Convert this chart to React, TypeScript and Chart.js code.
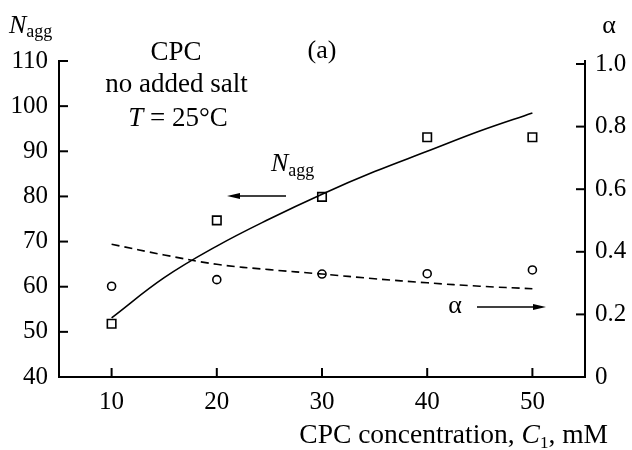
import React, { useEffect, useRef } from "react";
import { Chart, registerables } from "chart.js";

Chart.register(...registerables);

// ---- data ----
const xTickValues = [10, 20, 30, 40, 50];
const nAggTickValues = [40, 50, 60, 70, 80, 90, 100, 110];
const alphaTickValues = [0, 0.2, 0.4, 0.6, 0.8, 1.0];

const concentrations = [10, 20, 30, 40, 50];
const nAggMeasured = [51.8, 74.7, 79.9, 93.1, 93.1];
const alphaMeasured = [0.29, 0.311, 0.329, 0.33, 0.342];

const fitConcentrations = [10, 15, 20, 25, 30, 35, 40, 45, 50];
const nAggFit = [53.1, 62, 69, 75, 80.5, 85.5, 90, 94.5, 98.5];
const alphaFit = [0.424, 0.39, 0.36, 0.343, 0.329, 0.314, 0.301, 0.29, 0.282];

const SERIF = '"Liberation Serif", "Times New Roman", serif';
const font = (size: number, italic = false) => `${italic ? "italic " : ""}${size}px ${SERIF}`;

type Part = { text: string; font: string; dy?: number };

function drawParts(ctx: CanvasRenderingContext2D, parts: Part[], x: number, y: number, align: "left" | "center" | "right") {
  let total = 0;
  parts.forEach((p) => {
    ctx.font = p.font;
    total += ctx.measureText(p.text).width;
  });
  let cx = align === "center" ? x - total / 2 : align === "right" ? x - total : x;
  ctx.textAlign = "left";
  ctx.textBaseline = "alphabetic";
  parts.forEach((p) => {
    ctx.font = p.font;
    ctx.fillText(p.text, cx, y + (p.dy || 0));
    cx += ctx.measureText(p.text).width;
  });
}

function arrow(ctx: CanvasRenderingContext2D, x1: number, x2: number, y: number) {
  const dir = Math.sign(x2 - x1);
  ctx.beginPath();
  ctx.moveTo(x1, y);
  ctx.lineTo(x2 - dir * 8, y);
  ctx.lineWidth = 1.6;
  ctx.stroke();
  ctx.beginPath();
  ctx.moveTo(x2, y);
  ctx.lineTo(x2 - dir * 13, y - 3);
  ctx.lineTo(x2 - dir * 13, y + 3);
  ctx.closePath();
  ctx.fill();
}

const decorPlugin = {
  id: "decor",
  afterDraw(chart: any) {
    const { ctx, chartArea: ca, scales } = chart;
    ctx.save();
    ctx.strokeStyle = "#000";
    ctx.fillStyle = "#000";
    ctx.lineWidth = 2;
    const tl = 9;
    // inward ticks
    scales.x.ticks.forEach((t: any) => {
      const px = scales.x.getPixelForValue(t.value);
      ctx.beginPath();
      ctx.moveTo(px, ca.bottom);
      ctx.lineTo(px, ca.bottom - tl);
      ctx.stroke();
    });
    scales.y.ticks.forEach((t: any) => {
      if (t.value === 40) return;
      const py = scales.y.getPixelForValue(t.value);
      ctx.beginPath();
      ctx.moveTo(ca.left, py);
      ctx.lineTo(ca.left + tl, py);
      ctx.stroke();
    });
    scales.y1.ticks.forEach((t: any) => {
      if (t.value === 0) return;
      const py = scales.y1.getPixelForValue(t.value);
      ctx.beginPath();
      ctx.moveTo(ca.right, py);
      ctx.lineTo(ca.right - tl, py);
      ctx.stroke();
    });

    // axis titles
    drawParts(ctx, [
      { text: "N", font: font(26, true) },
      { text: "agg", font: font(18), dy: 4 },
    ], 9, 33, "left");
    drawParts(ctx, [{ text: "α", font: font(26) }], 609, 33, "center");
    drawParts(ctx, [
      { text: "CPC concentration, ", font: font(27.5) },
      { text: "C", font: font(27.5, true) },
      { text: "1", font: font(17), dy: 5 },
      { text: ", mM", font: font(27.5) },
    ], 608, 443, "right");

    // annotations
    drawParts(ctx, [{ text: "(a)", font: font(26) }], 322, 58, "center");
    drawParts(ctx, [{ text: "CPC", font: font(27) }], 176, 60, "center");
    drawParts(ctx, [{ text: "no added salt", font: font(27) }], 176.5, 92, "center");
    drawParts(ctx, [
      { text: "T", font: font(27, true) },
      { text: " = 25°C", font: font(27) },
    ], 178, 126, "center");

    drawParts(ctx, [
      { text: "N", font: font(26, true) },
      { text: "agg", font: font(18), dy: 5 },
    ], 271, 171, "left");
    arrow(ctx, 286, 227, 196);

    drawParts(ctx, [{ text: "α", font: font(26) }], 455, 313, "center");
    arrow(ctx, 477, 546, 307);

    ctx.restore();
  },
};

const setTicks = (values: number[]) => (scale: any) => {
  scale.ticks = values.map((v) => ({ value: v }));
};

export default function App() {
  const ref = useRef<HTMLCanvasElement | null>(null);

  useEffect(() => {
    if (!ref.current) return;
    const tickFont = { family: SERIF, size: 25 };
    const chart = new Chart(ref.current, {
      type: "line",
      data: {
        datasets: [
          {
            label: "Nagg fit",
            data: fitConcentrations.map((x, i) => ({ x, y: nAggFit[i] })),
            yAxisID: "y",
            borderColor: "#000",
            borderWidth: 1.6,
            pointRadius: 0,
            tension: 0.4,
            fill: false,
          },
          {
            label: "alpha fit",
            data: fitConcentrations.map((x, i) => ({ x, y: alphaFit[i] })),
            yAxisID: "y1",
            borderColor: "#000",
            borderWidth: 1.6,
            borderDash: [8, 5],
            pointRadius: 0,
            tension: 0.4,
            fill: false,
          },
          {
            label: "Nagg",
            data: concentrations.map((x, i) => ({ x, y: nAggMeasured[i] })),
            yAxisID: "y",
            showLine: false,
            pointStyle: "rect",
            pointRadius: 6,
            pointBorderWidth: 1.6,
            pointBorderColor: "#000",
            pointBackgroundColor: "#fff",
          },
          {
            label: "alpha",
            data: concentrations.map((x, i) => ({ x, y: alphaMeasured[i] })),
            yAxisID: "y1",
            showLine: false,
            pointStyle: "circle",
            pointRadius: 4,
            pointBorderWidth: 1.6,
            pointBorderColor: "#000",
            pointBackgroundColor: "#fff",
          },
        ],
      },
      options: {
        responsive: false,
        animation: false,
        layout: { padding: { top: 61, left: 0, right: 0, bottom: 0 } },
        plugins: { legend: { display: false }, tooltip: { enabled: false } },
        scales: {
          x: {
            type: "linear",
            min: 5,
            max: 55,
            afterBuildTicks: setTicks(xTickValues),
            afterFit: (s: any) => { s.height = 73; },
            grid: { display: false, drawTicks: false },
            border: { display: true, color: "#000", width: 2 },
            ticks: { color: "#000", font: tickFont, padding: 10, maxRotation: 0 },
          },
          y: {
            type: "linear",
            position: "left",
            min: 40,
            max: 110,
            afterBuildTicks: setTicks(nAggTickValues),
            afterFit: (s: any) => { s.width = 59; },
            grid: { display: false, drawTicks: false },
            border: { display: true, color: "#000", width: 2 },
            ticks: { color: "#000", font: tickFont, padding: 11 },
          },
          y1: {
            type: "linear",
            position: "right",
            min: 0,
            max: 1.0096,
            afterBuildTicks: setTicks(alphaTickValues),
            afterFit: (s: any) => { s.width = 47; },
            grid: { display: false, drawTicks: false },
            border: { display: true, color: "#000", width: 2 },
            ticks: {
              color: "#000",
              font: tickFont,
              padding: 10,
              callback: (v: any) => (v === 0 ? "0" : Number(v).toFixed(1)),
            },
          },
        },
      },
      plugins: [decorPlugin],
    } as any);
    return () => chart.destroy();
  }, []);

  return (
    <div style={{ position: "absolute", left: 0, top: 0, width: 632, height: 450, background: "#fff" }}>
      <canvas ref={ref} width={632} height={450} style={{ display: "block" }} />
    </div>
  );
}
